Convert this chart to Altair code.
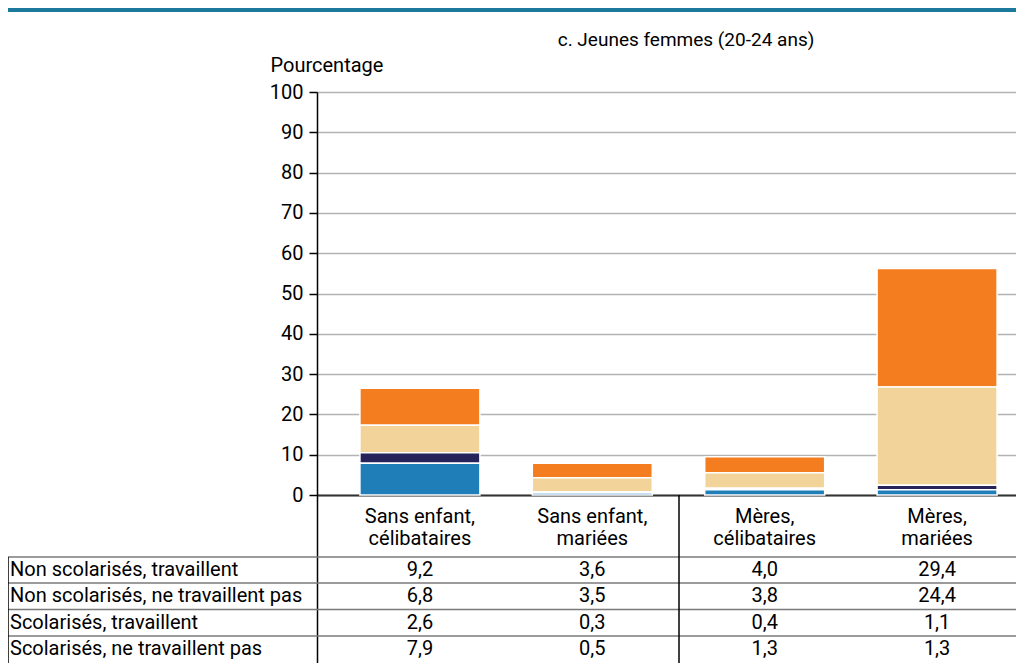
import altair as alt
import pandas as pd

# ---- data -------------------------------------------------------------
categories = [
    "Sans enfant, célibataires",
    "Sans enfant, mariées",
    "Mères, célibataires",
    "Mères, mariées",
]
series = [
    "Non scolarisés, travaillent",
    "Non scolarisés, ne travaillent pas",
    "Scolarisés, travaillent",
    "Scolarisés, ne travaillent pas",
]
non_scol_travaillent = [9.2, 3.6, 4.0, 29.4]
non_scol_ne_travaillent_pas = [6.8, 3.5, 3.8, 24.4]
scol_travaillent = [2.6, 0.3, 0.4, 1.1]
scol_ne_travaillent_pas = [7.9, 0.5, 1.3, 1.3]
values = [non_scol_travaillent, non_scol_ne_travaillent_pas,
          scol_travaillent, scol_ne_travaillent_pas]
title_text = "c. Jeunes femmes (20-24 ans)"
y_ticks = list(range(0, 101, 10))

# ---- style / layout ---------------------------------------------------
colors = ["#F47D20", "#F2D49B", "#25235A", "#1F7EB8"]
FONT = "Roboto"
FS_TITLE = 19
FS_AXIS = 20
FS_CAT = 20
FS_TABLE = 20
PLOT_TOP = 92       # page y of value 100
PLOT_BOTTOM = 664   # page y of plot bottom
PLOT_LEFT = 317
PLOT_W = 699
PX = 4.03           # pixels per percentage point


def val(page_y):
    return 100 - (page_y - PLOT_TOP) / PX


ymin = val(PLOT_BOTTOM)
row_centers = [569.5, 596, 622.5, 649]
row_lines = [557, 583, 609.5, 636]

rows = []
for si, (name, vals) in enumerate(zip(series, values)):
    for c, v in zip(categories, vals):
        rows.append(dict(cat=c, serie=name, value=v, stack=3 - si,
                         label=f"{v:.1f}".replace(".", ","),
                         rowy=val(row_centers[si])))
df = pd.DataFrame(rows)
row_df = pd.DataFrame({"serie": series, "rowy": [val(p) for p in row_centers]})
line_df = pd.DataFrame({"y": [val(p) for p in row_lines]})

xscale = alt.Scale(domain=categories, range=[0, 723],
                   paddingInner=0.304, paddingOuter=0.249)
yscale = alt.Scale(domain=[ymin, 100], nice=False, zero=False)

xaxis = alt.Axis(title=None, orient="bottom", offset=-(PLOT_BOTTOM - 495),
                 ticks=False, domainColor="#333333", domainWidth=2,
                 labelFontSize=FS_CAT, labelFont=FONT, labelColor="black",
                 labelPadding=11, labelAngle=0, labelLineHeight=22,
                 labelBaseline="top", grid=False,
                 labelExpr="[slice(datum.label, 0, indexof(datum.label, ',') + 1), "
                           "slice(datum.label, indexof(datum.label, ',') + 2)]")
yaxis = alt.Axis(values=y_ticks, grid=True, gridColor="#B3B3B3", gridWidth=1.5,
                 domainColor="black", domainWidth=1.5, tickColor="black",
                 tickSize=8, tickWidth=1.5, labelFontSize=FS_AXIS, labelFont=FONT,
                 labelColor="black", labelPadding=6,
                 title="Pourcentage", titleAngle=0, titleAlign="left",
                 titleBaseline="middle", titleX=-47, titleY=-27,
                 titleFontWeight="normal", titleFontSize=FS_AXIS, titleFont=FONT,
                 titleColor="black")

bars = alt.Chart(df).mark_bar(stroke="white", strokeWidth=1.5).encode(
    x=alt.X("cat:N", sort=categories, scale=xscale, axis=xaxis),
    y=alt.Y("value:Q", stack="zero", scale=yscale, axis=yaxis),
    color=alt.Color("serie:N", scale=alt.Scale(domain=series, range=colors),
                    legend=None),
    order=alt.Order("stack:Q"),
)

cell_text = alt.Chart(df).mark_text(fontSize=FS_TABLE, font=FONT, color="black",
                                    baseline="middle").encode(
    x=alt.X("cat:N", sort=categories),
    y=alt.Y("rowy:Q"),
    text="label:N",
)

row_labels = alt.Chart(row_df).mark_text(fontSize=FS_TABLE, font=FONT,
                                         color="black", align="left",
                                         baseline="middle").encode(
    x=alt.value(-307),
    y=alt.Y("rowy:Q"),
    text="serie:N",
)

h_lines = alt.Chart(line_df).mark_rule(color="#7A7A7A", strokeWidth=1.5).encode(
    x=alt.value(-309), x2=alt.value(PLOT_W),
    y=alt.Y("y:Q"),
)

left_border = alt.Chart(pd.DataFrame({"a": [0]})).mark_rule(
    color="black", strokeWidth=1.5).encode(
    x=alt.value(-309),
    y=alt.Y(datum=val(row_lines[0])),
    y2=alt.Y2(datum=ymin),
)

group_sep = alt.Chart(pd.DataFrame({"a": [0]})).mark_rule(
    color="black", strokeWidth=1.5).encode(
    x=alt.value(679 - PLOT_LEFT),
    y=alt.Y(datum=0),
    y2=alt.Y2(datum=ymin),
)

title_mark = alt.Chart(pd.DataFrame({"t": [title_text]})).mark_text(
    fontSize=FS_TITLE, font=FONT, color="black", align="center",
    baseline="middle").encode(
    x=alt.value(686 - PLOT_LEFT), y=alt.value(40 - PLOT_TOP), text="t:N",
)

top_line = alt.Chart(pd.DataFrame({"a": [0]})).mark_rule(
    color="#1B7A9C", strokeWidth=4).encode(
    x=alt.value(-309), x2=alt.value(PLOT_W), y=alt.value(10 - PLOT_TOP),
)

chart = alt.layer(
    bars, h_lines, left_border, group_sep, cell_text, row_labels,
    title_mark, top_line,
).properties(
    width=PLOT_W, height=PLOT_BOTTOM - PLOT_TOP,
    autosize=alt.AutoSizeParams(type="none"),
    padding={"left": PLOT_LEFT - 8, "top": PLOT_TOP - 8, "right": 0, "bottom": 0},
).configure(font=FONT).configure_view(stroke=None)

chart.save("out.html", embed_options={"renderer": "svg", "actions": False})
